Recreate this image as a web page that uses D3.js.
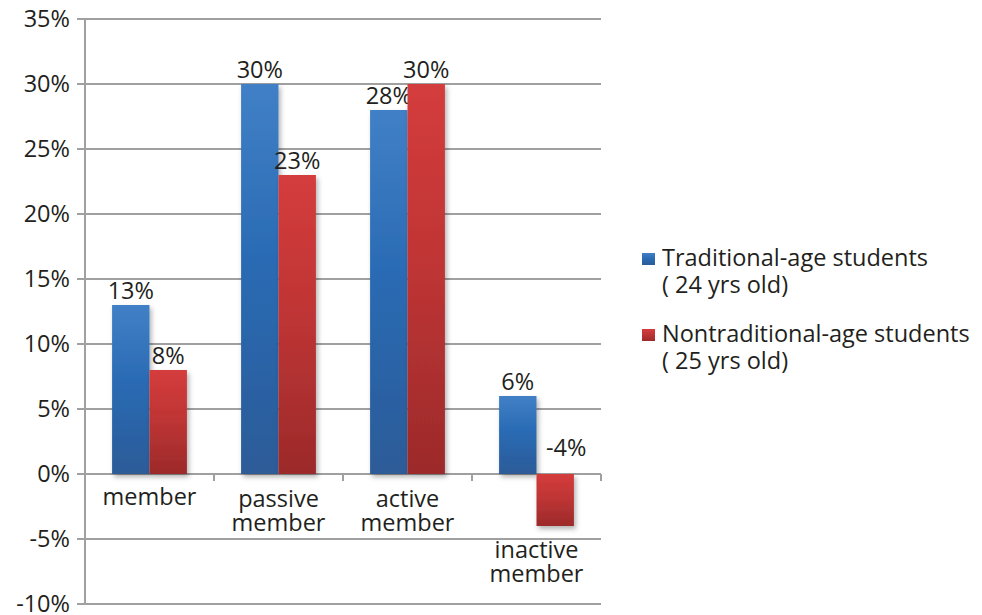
<!DOCTYPE html>
<html>
<head>
<meta charset="utf-8">
<script src="https://cdn.jsdelivr.net/npm/d3@7"></script>
<style>
  html, body { margin: 0; padding: 0; background: #fff; }
  text { font-family: "Open Sans", "Noto Sans", sans-serif; fill: #231f20; }
</style>
</head>
<body>
<svg id="chart" width="982" height="615"></svg>
<script>
// Membership status by student age group
const categories = [["member"], ["passive", "member"], ["active", "member"], ["inactive", "member"]];
const seriesNames = [["Traditional-age students", "( 24 yrs old)"], ["Nontraditional-age students", "( 25 yrs old)"]];
const traditional = [13, 30, 28, 6];
const nontraditional = [8, 23, 30, -4];
const yTicks = [-10, -5, 0, 5, 10, 15, 20, 25, 30, 35];

const svg = d3.select("#chart");
const plotLeft = 85, plotRight = 601, plotTop = 19, plotBottom = 604;
const fontSize = 23.5;

const x = d3.scaleBand().domain(d3.range(categories.length)).range([plotLeft, plotRight]).paddingInner(0).paddingOuter(0);
const y = d3.scaleLinear().domain([-10, 35]).range([plotBottom, plotTop]);
const groupW = x.bandwidth() * 0.58;
const xs = d3.scaleBand().domain([0, 1]).range([0, groupW]);

// gradients
const defs = svg.append("defs");
function grad(id, c1, c2, c3) {
  const g = defs.append("linearGradient").attr("id", id).attr("x1", 0).attr("y1", 0).attr("x2", 0).attr("y2", 1);
  g.append("stop").attr("offset", "0%").attr("stop-color", c1);
  g.append("stop").attr("offset", "45%").attr("stop-color", c2);
  g.append("stop").attr("offset", "100%").attr("stop-color", c3);
}
grad("gBlue", "#4180c6", "#2a6bb4", "#2d5b98");
grad("gRed", "#d43c3c", "#c03535", "#9c2a2a");
const f = defs.append("filter").attr("id", "shadow").attr("x", "-20%").attr("y", "-20%").attr("width", "150%").attr("height", "150%");
f.append("feDropShadow").attr("dx", 2).attr("dy", 3).attr("stdDeviation", 2.5).attr("flood-color", "#000").attr("flood-opacity", 0.3);

// gridlines
svg.append("g").selectAll("line").data(yTicks).join("line")
  .attr("x1", plotLeft - 8).attr("x2", plotRight)
  .attr("y1", d => y(d)).attr("y2", d => y(d))
  .attr("stroke", "#a0a0a0").attr("stroke-width", 2);

// y axis line
svg.append("line").attr("x1", plotLeft).attr("x2", plotLeft).attr("y1", plotTop).attr("y2", plotBottom)
  .attr("stroke", "#a0a0a0").attr("stroke-width", 2);

// y tick labels
svg.append("g").selectAll("text").data(yTicks).join("text")
  .attr("x", 70).attr("y", d => y(d) + 8)
  .attr("text-anchor", "end").attr("font-size", fontSize)
  .text(d => d + "%");

// category tick marks on the zero line
svg.append("g").selectAll("line").data(d3.range(categories.length + 1)).join("line")
  .attr("x1", i => plotLeft + i * x.bandwidth()).attr("x2", i => plotLeft + i * x.bandwidth())
  .attr("y1", y(0)).attr("y2", y(0) + 7)
  .attr("stroke", "#a0a0a0").attr("stroke-width", 2);

// bars
const series = [traditional, nontraditional];
const fills = ["url(#gBlue)", "url(#gRed)"];
series.forEach((vals, s) => {
  const g = svg.append("g");
  g.selectAll("rect").data(vals).join("rect")
    .attr("x", (d, i) => x(i) + (x.bandwidth() - groupW) / 2 + xs(s))
    .attr("width", xs.bandwidth())
    .attr("y", d => y(Math.max(0, d)))
    .attr("height", d => Math.abs(y(d) - y(0)))
    .attr("fill", fills[s])
    .attr("filter", "url(#shadow)");
  // value labels; a negative value's label sits above the zero line, nudged right
  g.selectAll("text").data(vals).join("text")
    .attr("x", (d, i) => x(i) + (x.bandwidth() - groupW) / 2 + xs(s) + xs.bandwidth() / 2 + (d < 0 ? 11 : 0))
    .attr("y", d => y(Math.max(0, d)) - (d < 0 ? 18 : 6))
    .attr("text-anchor", "middle").attr("font-size", fontSize)
    .text(d => d + "%");
});

// category labels (the last one sits below its negative bar)
const labelY = [505, 507, 507, 558];
categories.forEach((lines, i) => {
  const cx = x(i) + x.bandwidth() / 2;
  const t = svg.append("text").attr("text-anchor", "middle").attr("font-size", fontSize)
    .attr("x", cx).attr("y", labelY[i]);
  lines.forEach((l, k) => t.append("tspan").attr("x", cx).attr("dy", k ? 24 : 0).text(l));
});

// legend
const legendColors = ["url(#gBlue)", "url(#gRed)"];
const legendY = [266, 342];
seriesNames.forEach((lines, i) => {
  svg.append("rect").attr("x", 642).attr("y", legendY[i] - 13).attr("width", 13).attr("height", 12)
    .attr("fill", legendColors[i]);
  const t = svg.append("text").attr("x", 662).attr("y", legendY[i]).attr("font-size", fontSize);
  lines.forEach((l, k) => t.append("tspan").attr("x", 662).attr("dy", k ? 27 : 0).text(l));
});
</script>
</body>
</html>
